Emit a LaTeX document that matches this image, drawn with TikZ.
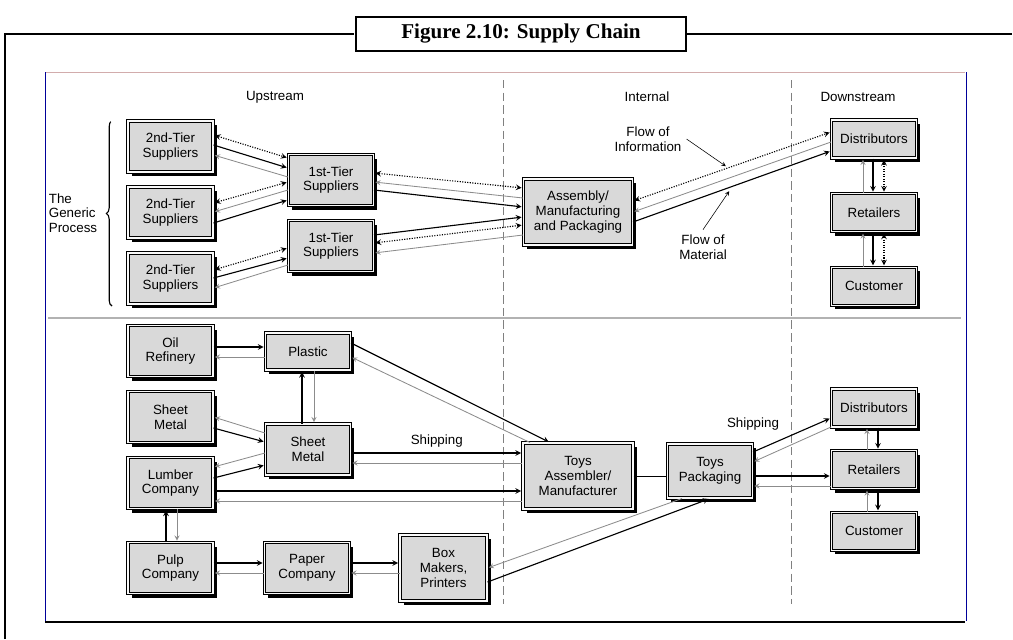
\documentclass[tikz,border=0pt]{standalone}
\usepackage{fontspec}
\setmainfont{Liberation Sans}
\newfontfamily\titlefont{Liberation Serif}
\usetikzlibrary{shadows,decorations.pathreplacing}

\begin{document}
\begin{tikzpicture}[
     x = 0.025cm, y = -0.025cm, % one unit is one pixel, y runs down
     > = stealth, % arrow head style
     shorten > = 1pt, % don't touch arrow head to node
     node distance = 1.65cm, % distance between stacked boxes
     semithick, % line style
     font = \fontsize{9.5}{10.5}\selectfont
 ]

 \tikzstyle{unit} = [
     draw = black,
     line width = 0.7pt,
     double = gray!5,
     double distance = 0.9pt,
     fill = gray!30,
     drop shadow = {shadow xshift=2.8pt, shadow yshift=-3pt, fill=black, opacity=1},
     align = center,
     inner sep = 1pt,
     minimum width = 2.125cm,
     minimum height = 1.275cm
 ]
 \tikzstyle{goods} = [->, black, thick]
 \tikzstyle{cash} = [->, gray!90, semithick]
 \tikzstyle{info} = [<->, black, thick, densely dotted, shorten < = 1pt]

 \useasboundingbox (0,0) rectangle (1013,639);

 % outer frame and title
 \node[draw, line width=1.4pt, fill=white, minimum width=8.225cm, minimum height=0.85cm,
       font=\titlefont\bfseries\fontsize{15}{17}\selectfont] (title) at (521,34) {Figure 2.10: Supply Chain};
 \draw[line width=1.4pt] (5,639) |- (title.west);
 \draw[line width=1.4pt] (title.east) -- (1013,34);

 % inner frame
 \draw[red!30!gray!50] (45,72) -- (966,72);
 \draw[blue!60!black, thin] (45,72) -- (45,622);
 \draw[blue!60!black] (966,72) -- (966,622);
 \draw[thick] (45,622) -- (966,622);
 \draw[gray!60, thick] (48,318) -- (962,318);
 \draw[gray, dash pattern=on 6pt off 3pt] (503,80) -- (503,605);
 \draw[gray, dash pattern=on 6pt off 3pt] (791,80) -- (791,605);

 \node (up) at (275,97) {Upstream};
 \node (internal) at (647,97) {Internal};
 \node (down) at (858,97) {Downstream};

 % the generic process
 \node[align=left] (generic) at (73,213) {The\\Generic\\Process};
 \draw[decorate, decoration={brace, amplitude=4pt}, thick] (112,306) -- (112,121);

 \node[unit] (tier2a) at (170.5,146.5) {2nd-Tier\\Suppliers};
 \node[unit] (tier2b) [below of=tier2a] {2nd-Tier\\Suppliers};
 \node[unit] (tier2c) [below of=tier2b] {2nd-Tier\\Suppliers};
 \node[unit] (tier1a) at (331,180) {1st-Tier\\Suppliers};
 \node[unit] (tier1b) [below of=tier1a] {1st-Tier\\Suppliers};
 \node[unit, minimum width=2.725cm, minimum height=1.65cm] (assembly) at (578,212) {Assembly/\\Manufacturing\\and Packaging};
 \node[unit, minimum height=0.95cm] (distA) at (874,139) {Distributors};
 \node[unit, minimum height=0.95cm, node distance=1.84cm] (retA) [below of=distA] {Retailers};
 \node[unit, minimum height=0.95cm, node distance=1.84cm] (custA) [below of=retA] {Customer};

 \draw[info] (tier2a.east |- 0,135) -- (tier1a.west |- 0,158);
 \draw[goods] (tier2a.east |- 0,145) -- (tier1a.west |- 0,168);
 \draw[cash] (tier1a.west |- 0,177) -- (tier2a.east |- 0,155);
 \draw[info] (tier2b.east |- 0,203) -- (tier1a.west |- 0,182);
 \draw[cash] (tier1a.west |- 0,190) -- (tier2b.east |- 0,212);
 \draw[goods] (tier2b.east |- 0,223) -- (tier1a.west |- 0,200);
 \draw[info] (tier2c.east |- 0,270) -- (tier1b.west |- 0,248);
 \draw[goods] (tier2c.east |- 0,278) -- (tier1b.west |- 0,258);
 \draw[cash] (tier1b.west |- 0,265) -- (tier2c.east |- 0,288);

 \draw[info] (tier1a.east |- 0,173) -- (assembly.west |- 0,188);
 \draw[cash] (assembly.west |- 0,198) -- (tier1a.east |- 0,182);
 \draw[goods] (tier1a.east |- 0,190) -- (assembly.west |- 0,207);
 \draw[goods] (tier1b.east |- 0,235) -- (assembly.west |- 0,217);
 \draw[info] (tier1b.east |- 0,243) -- (assembly.west |- 0,225);
 \draw[cash] (assembly.west |- 0,235) -- (tier1b.east |- 0,253);

 \draw[info] (assembly.east |- 0,201) -- (distA.west |- 0,132);
 \draw[cash] (distA.west |- 0,142) -- (assembly.east |- 0,212);
 \draw[goods] (assembly.east |- 0,222) -- (distA.west |- 0,151);

 \draw[cash] (retA.north -| 863,0) -- (distA.south -| 863,0);
 \draw[goods] (distA.south -| 873,0) -- (retA.north -| 873,0);
 \draw[info] (distA.south -| 884,0) -- (retA.north -| 884,0);
 \draw[cash] (custA.north -| 863,0) -- (retA.south -| 863,0);
 \draw[goods] (retA.south -| 873,0) -- (custA.north -| 873,0);
 \draw[info] (retA.south -| 884,0) -- (custA.north -| 884,0);

 \node[align=center] (flowinfo) at (648,139) {Flow of\\Information};
 \node[align=center] (flowmat) at (703,247) {Flow of\\Material};
 \coordinate (infoline) at (727,167);
 \coordinate (matline) at (730,190);
 \draw[->, thin] (flowinfo.east) -- (infoline);
 \draw[->, thin] (flowmat.north) -- (matline);

 % the toy example
 \node[unit] (oil) at (170.5,351) {Oil\\Refinery};
 \node[unit] (metalA) [below of=oil] {Sheet\\Metal};
 \node[unit] (lumber) [below of=metalA] {Lumber\\Company};
 \node[unit] (pulp) at (170.5,568) {Pulp\\Company};
 \node[unit, minimum height=0.925cm] (plastic) at (308,351.5) {Plastic};
 \node[unit] (metalB) at (308,449.5) {Sheet\\Metal};
 \node[unit] (paper) at (307,568) {Paper\\Company};
 \node[unit, minimum width=2.175cm, minimum height=1.65cm] (boxes) at (443.5,568) {Box\\Makers,\\Printers};
 \node[unit, minimum width=2.75cm, minimum height=1.65cm] (toys) at (578,476) {Toys\\Assembler/\\Manufacturer};
 \node[unit, minimum height=1.35cm] (packing) at (710,471) {Toys\\Packaging};
 \node[unit, minimum height=0.95cm] (distB) at (874,408) {Distributors};
 \node[unit, minimum height=0.95cm, node distance=1.54cm] (retB) [below of=distB] {Retailers};
 \node[unit, minimum height=0.95cm, node distance=1.54cm] (custB) [below of=retB] {Customer};

 \draw[goods] (oil.east |- 0,347) -- (plastic.west |- 0,347);
 \draw[cash] (plastic.west |- 0,357) -- (oil.east |- 0,357);
 \draw[goods] (metalB.north -| 302,0) -- (plastic.south -| 302,0);
 \draw[cash] (plastic.south -| 314,0) -- (metalB.north -| 314,0);
 \draw[goods] (plastic.east |- 0,343) -- (toys.north -| 550,0);
 \draw[cash] (toys.north -| 530,0) -- (plastic.east |- 0,357);

 \draw[cash] (metalB.west |- 0,433) -- (metalA.east |- 0,417);
 \draw[goods] (metalA.east |- 0,428) -- (metalB.west |- 0,442);
 \draw[cash] (metalB.west |- 0,453) -- (lumber.east |- 0,467);
 \draw[goods] (lumber.east |- 0,478) -- (metalB.west |- 0,465);

 \draw[goods] (metalB.east |- 0,453) -- node[above] {Shipping} (toys.west |- 0,453);
 \draw[cash] (toys.west |- 0,463) -- (metalB.east |- 0,463);
 \draw[goods] (lumber.east |- 0,491) -- (toys.west |- 0,491);
 \draw[cash] (toys.west |- 0,501) -- (lumber.east |- 0,501);

 \draw[goods] (pulp.north -| 166,0) -- (lumber.south -| 166,0);
 \draw[cash] (lumber.south -| 177,0) -- (pulp.north -| 177,0);
 \draw[goods] (pulp.east |- 0,563) -- (paper.west |- 0,563);
 \draw[cash] (paper.west |- 0,573) -- (pulp.east |- 0,573);
 \draw[goods] (paper.east |- 0,563) -- (boxes.west |- 0,563);
 \draw[cash] (boxes.west |- 0,573) -- (paper.east |- 0,573);

 \draw[cash] (packing.south -| 682,0) -- (boxes.east |- 0,568);
 \draw[goods] (boxes.east |- 0,582) -- (packing.south -| 710,0);
 \draw (toys.east |- 0,476) -- (packing.west |- 0,476);

 \draw[goods] (packing.east |- 0,452) -- node[at start, above=12pt] {Shipping} (distB.west |- 0,418);
 \draw[cash] (distB.west |- 0,427) -- (packing.east |- 0,462);
 \draw[goods] (packing.east |- 0,476) -- (retB.west |- 0,476);
 \draw[cash] (retB.west |- 0,486) -- (packing.east |- 0,486);

 \draw[cash] (retB.north -| 867,0) -- (distB.south -| 867,0);
 \draw[goods] (distB.south -| 878,0) -- (retB.north -| 878,0);
 \draw[cash] (custB.north -| 867,0) -- (retB.south -| 867,0);
 \draw[goods] (retB.south -| 878,0) -- (custB.north -| 878,0);
\end{tikzpicture}
\end{document}
